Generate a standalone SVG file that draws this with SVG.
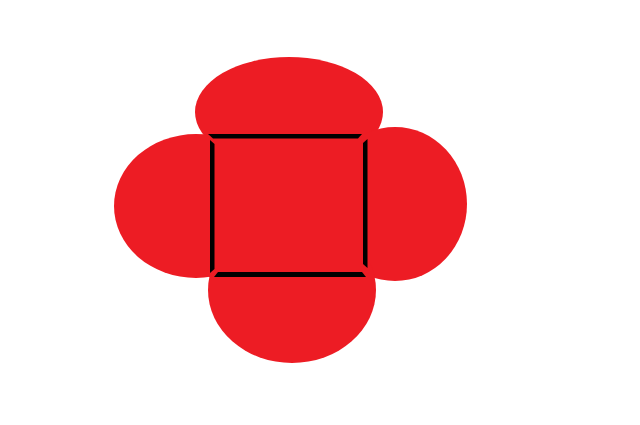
<svg xmlns="http://www.w3.org/2000/svg" width="640" height="425" viewBox="0 0 640 425">
<style>
.red{fill:#ED1C24}
.bar{fill:#000000}
</style>
<rect width="640" height="425" fill="#ffffff"/>
<g id="lobe-top"><ellipse class="red" cx="289" cy="112" rx="94" ry="55"/></g>
<g id="lobe-left"><ellipse class="red" cx="196" cy="206" rx="82" ry="72"/></g>
<g id="lobe-right"><ellipse class="red" cx="395" cy="204" rx="72" ry="77"/></g>
<g id="lobe-bottom"><ellipse class="red" cx="292" cy="290" rx="84" ry="73"/></g>
<g id="square">
<rect class="red" x="209" y="134" width="159" height="143"/>
<polygon class="bar" points="208,134 362,134 358,138.5 213,138.5"/>
<polygon class="bar" points="210,140 214.5,144 214.5,269 210,273"/>
<polygon class="bar" points="363,143 367.5,139 367.5,268 363,264"/>
<polygon class="bar" points="218,272 362,272 366,277 214,277"/>
</g>
</svg>
